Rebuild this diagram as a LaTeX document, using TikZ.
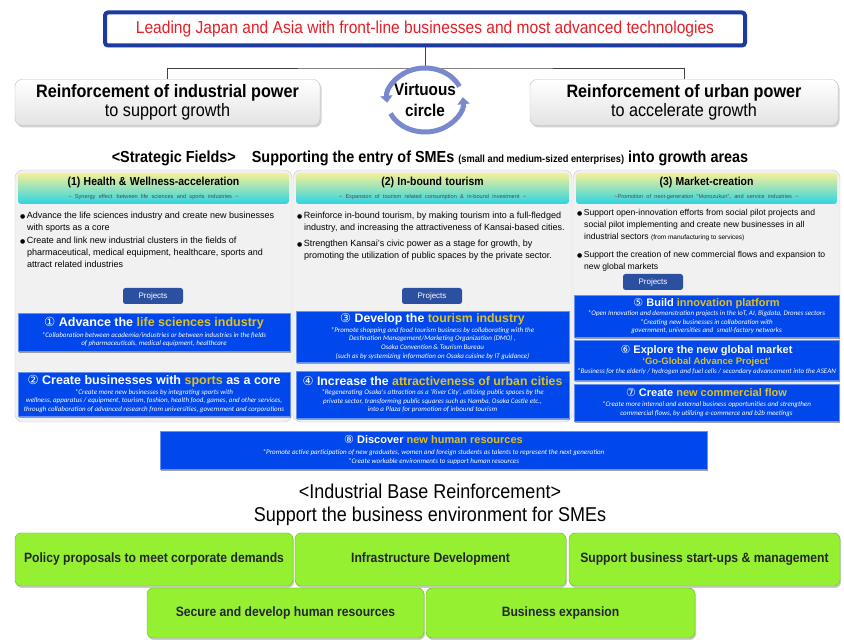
\documentclass[tikz,border=0pt]{standalone}
\usepackage{xcolor}
\usepackage{fontspec}
\setmainfont{Liberation Sans}
\newfontfamily\narrowfont[FakeStretch=0.9]{Liberation Sans}
\newfontfamily\circfont{DejaVu Sans}
\newfontfamily\notefont{Carlito}
\usetikzlibrary{arrows.meta,shadows}

\definecolor{banblue}{RGB}{28,58,160}
\definecolor{leadred}{RGB}{230,30,40}
\definecolor{cyc}{RGB}{120,138,205}
\definecolor{hdtop}{RGB}{246,240,150}
\definecolor{hdbot}{RGB}{45,212,228}
\definecolor{colbg}{RGB}{241,241,241}
\definecolor{btnblue}{RGB}{44,80,160}
\definecolor{actblue}{RGB}{0,72,235}
\definecolor{gold}{RGB}{222,192,40}
\definecolor{basegreen}{RGB}{150,240,50}

\newcommand{\gold}[1]{\textcolor{gold}{#1}}
\newcommand{\cnum}[1]{{\circfont\mdseries\upshape #1}}
\newcommand{\acthd}[2][12.5]{{\normalfont\bfseries\fontsize{#1}{#1}\selectfont #2}}
\newcommand{\bul}{{\circfont\fontsize{6}{6}\selectfont ●}\,}
\newcommand{\hdtitle}[1]{{\narrowfont\bfseries\fontsize{11.6}{12.5}\selectfont #1}}
\newcommand{\hdsub}[1]{{\color{black!70}\fontsize{5.6}{6.5}\selectfont #1}}

\tikzset{
  x=1pt, y=1pt,
  banner/.style={draw=banblue, line width=4pt, fill=white, rounded corners=3pt,
    minimum width=640, minimum height=33, text=leadred,
    font=\narrowfont\fontsize{17.3}{19}\selectfont,
    drop shadow={shadow xshift=1pt, shadow yshift=-2pt, opacity=.35}},
  link/.style={draw=black!75, line width=0.8pt},
  powerbox/.style={draw=gray!50, rounded corners=7pt, top color=white, bottom color=gray!22,
    minimum height=46, align=center, font=\narrowfont\fontsize{18}{19}\selectfont,
    drop shadow={shadow xshift=1.5pt, shadow yshift=-2pt, opacity=.35}},
  cyclearrow/.style={draw=cyc, line width=5pt, -{Triangle[length=7pt,width=12pt]}},
  colbox/.style={draw=gray!40, fill=colbg, rounded corners=8pt, minimum height=252},
  colhead/.style={top color=hdtop, bottom color=hdbot, rounded corners=3pt,
    minimum height=31, align=center, inner sep=1pt},
  bullet/.style={anchor=north west, align=left, inner sep=0pt, font=\fontsize{9}{12}\selectfont},
  projbtn/.style={fill=btnblue, rounded corners=2.5pt, text=white, minimum width=60,
    minimum height=16, font=\fontsize{8}{9}\selectfont},
  actbox/.style={fill=actblue, draw=actblue!60!white, text=white, align=center, inner sep=1pt,
    font=\notefont\itshape\fontsize{7}{8.6}\selectfont,
    drop shadow={shadow xshift=1pt, shadow yshift=-2.5pt, fill=black!60, opacity=.6}},
  basebox/.style={fill=basegreen, draw=basegreen!75!black, rounded corners=6pt, text=black!85,
    font=\narrowfont\bfseries\fontsize{13.5}{15}\selectfont,
    drop shadow={shadow xshift=1pt, shadow yshift=-2pt, opacity=.4}},
}

\begin{document}
\begin{tikzpicture}
  %\draw[help lines] (0,0) grid[step=20] (844,640);
  \fill[white] (0,0) rectangle (844,640);
  \useasboundingbox (0,0) rectangle (844,640);

  \node[banner] (lead) at (425,611) {Leading Japan and Asia with front-line businesses and most advanced technologies};
  \node[powerbox, minimum width=305] (ind) at (167.5,537.5) {{\bfseries Reinforcement of industrial power}\\to support growth};
  \node[powerbox, minimum width=308] (urb) at (684,537.5) {{\bfseries Reinforcement of urban power}\\to accelerate growth};
  \coordinate (fork) at (425,572);
  \draw[link] (lead.south) -- (fork);
  \draw[link] (ind.north) |- (fork) -| (urb.north);

  % cercle vertueux
  \node[font=\narrowfont\bfseries\fontsize{17}{21}\selectfont, align=center] (vc) at (425,540) {Virtuous\\circle};
  \draw[cyclearrow] (vc.center) ++(25:38 and 32) arc[start angle=25, end angle=185, x radius=38, y radius=32];
  \draw[cyclearrow] (vc.center) ++(205:38 and 32) arc[start angle=205, end angle=365, x radius=38, y radius=32];

  \node[font=\narrowfont\bfseries\fontsize{16}{18}\selectfont] (sf) at (430,482) {<Strategic Fields>\quad Supporting the entry of SMEs {\fontsize{10.3}{11}\selectfont (small and medium-sized enterprises)} into growth areas};

  % colonnes
  \node[colbox, minimum width=277] (c1) at (153.5,344) {};
  \node[colbox, minimum width=279] (c2) at (432.5,344) {};
  \node[colbox, minimum width=267] (c3) at (706.5,344) {};
  \node[colhead, text width=269] (h1) at (153.5,451.5) {\hdtitle{(1) Health \& Wellness-acceleration}\\[1pt]\hdsub{\textasciitilde{} Synergy effect\, between life sciences and sports industries \textasciitilde}};
  \node[colhead, text width=271] (h2) at (432.5,451.5) {\hdtitle{(2) In-bound tourism}\\[1pt]\hdsub{\textasciitilde{} Expansion of tourism related consumption \& in-bound investment \textasciitilde}};
  \node[colhead, text width=259] (h3) at (706.5,451.5) {\hdtitle{(3) Market-creation}\\[1pt]\hdsub{\textasciitilde Promotion of next-generation “Monozukuri”, and service industries \textasciitilde}};

  \node[bullet] (b11) at (20,428) {\bul Advance the life sciences industry and create new businesses\\\hspace*{7pt}with sports as a core};
  \node[bullet] (b12) at (20,403) {\bul Create and link new industrial clusters in the fields of\\\hspace*{7pt}pharmaceutical, medical equipment, healthcare, sports and\\\hspace*{7pt}attract related industries};
  \node[bullet] (b21) at (297,428) {\bul Reinforce in-bound tourism, by making tourism into a full-fledged\\\hspace*{7pt}industry, and increasing the attractiveness of Kansai-based cities.};
  \node[bullet] (b22) at (297,400) {\bul Strengthen Kansai's civic power as a stage for growth, by\\\hspace*{7pt}promoting the utilization of public spaces by the private sector.};
  \node[bullet, font=\fontsize{8.6}{12}\selectfont] (b31) at (577,431) {\bul Support open-innovation efforts from social pilot projects and\\\hspace*{7pt}social pilot implementing and create new businesses in all\\\hspace*{7pt}industrial sectors {\fontsize{6.5}{6.5}\selectfont (from manufacturing to services)}};
  \node[bullet, font=\fontsize{8.6}{12}\selectfont] (b32) at (577,389) {\bul Support the creation of new commercial flows and expansion to\\\hspace*{7pt}new global markets};

  \node[projbtn] (p1) at (153,344) {Projects};
  \node[projbtn] (p2) at (432,344) {Projects};
  \node[projbtn] (p3) at (653,358) {Projects};

  % projets
  \node[actbox, minimum height=38, minimum width=272] (a1) at (154,308) {\acthd{\cnum{①} Advance the \gold{life sciences industry}}\\[2pt]*Collaboration between academia/industries or between industries in the fields\\of pharmaceuticals, medical equipment, healthcare};
  \node[actbox, minimum height=44, minimum width=272] (a2) at (154,246) {\acthd{\cnum{②} Create businesses with \gold{sports} as a core}\\[1pt]*Create more new businesses by integrating sports with\\wellness, apparatus / equipment, tourism, fashion, health food, games, and other services,\\through collaboration of advanced research from universities, government and corporations};
  \node[actbox, minimum height=51, minimum width=273] (a3) at (432.5,303.5) {\acthd[12.3]{\cnum{③} Develop the \gold{tourism industry}}\\[1pt]*Promote shopping and food tourism business by collaborating with the\\Destination Management/Marketing Organization (DMO) ,\\Osaka Convention \& Tourism Bureau\\(such as by systemizing information on Osaka cuisine by IT guidance)};
  \node[actbox, minimum height=47, minimum width=273] (a4) at (432.5,245.5) {\acthd[12.3]{\cnum{④} Increase the \gold{attractiveness of urban cities}}\\[1pt]*Regenerating Osaka's attraction as a ‘River City’, utilizing public spaces by the\\private sector, transforming public squares such as Namba, Osaka Castle etc.,\\into a Plaza for promotion of inbound tourism};
  \node[actbox, minimum height=42, minimum width=265] (a5) at (706.5,324) {\acthd[11]{\cnum{⑤} Build \gold{innovation platform}}\\[1pt]*Open Innovation and demonstration projects in the IoT, AI, Bigdata, Drones sectors\\*Creating new businesses in collaboration with\\government, universities and\; small-factory networks};
  \node[actbox, minimum height=40, minimum width=265] (a6) at (706.5,280) {\acthd[11]{\cnum{⑥} Explore the new global market}\\[1pt]\acthd[9.5]{\gold{‘Go-Global Advance Project’}}\\[1pt]*Business for the elderly / hydrogen and fuel cells / secondary advancement into the ASEAN};
  \node[actbox, minimum height=37, minimum width=265] (a7) at (706.5,237.5) {\acthd[11]{\cnum{⑦} Create \gold{new commercial flow}}\\[2pt]*Create more internal and external business opportunities and strengthen\\commercial flows, by utilizing e-commerce and b2b meetings};
  \node[actbox, minimum height=38, minimum width=547] (a8) at (433.5,190) {\acthd[11]{\cnum{⑧} Discover \gold{new human resources}}\\[2pt]*Promote active participation of new graduates, women and foreign students as talents to represent the next generation\\*Create workable environments to support human resources};

  % base industrielle
  \node[font=\narrowfont\fontsize{20}{23}\selectfont, align=center] (ib) at (430,135.5) {<Industrial Base Reinforcement>\\Support the business environment for SMEs};
  \node[basebox, minimum width=278, minimum height=53] (g1) at (154,80.5) {Policy proposals to meet corporate demands};
  \node[basebox, minimum width=271, minimum height=53] (g2) at (430.5,80.5) {Infrastructure Development};
  \node[basebox, minimum width=271, minimum height=53] (g3) at (704.5,80.5) {Support business start-ups \& management};
  \node[basebox, minimum width=277, minimum height=50] (g4) at (285.5,27) {Secure and develop human resources};
  \node[basebox, minimum width=269, minimum height=50] (g5) at (560.5,27) {Business expansion};
\end{tikzpicture}
\end{document}
